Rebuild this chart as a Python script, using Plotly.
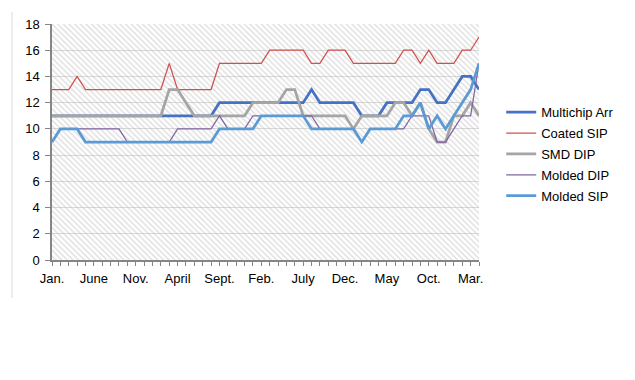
import plotly.graph_objects as go

months = ["Jan.", "Feb.", "Mar.", "April", "May", "June", "July", "Aug.", "Sept.", "Oct.", "Nov.", "Dec."]
n_points = 52
categories = [months[i % 12] for i in range(n_points)]
label_step = 5

series_names = ["Multichip Arr", "Coated SIP", "SMD DIP", "Molded DIP", "Molded SIP"]

multichip = [11]*20 + [12]*11 + [13] + [12]*5 + [11]*3 + [12]*4 + [13, 13, 12, 12, 13, 14, 14, 13]
coated_sip = [13, 13, 13, 14] + [13]*10 + [15] + [13]*5 + [15]*6 + [16]*5 + [15, 15] + [16]*3 + [15]*6 + [16, 16, 15, 16, 15, 15, 15, 16, 16, 17]
smd_dip = [11]*14 + [13, 13, 12] + [11]*7 + [12]*4 + [13, 13] + [11]*6 + [10] + [11]*4 + [12, 12, 11, 12, 10, 9, 9, 11, 11, 12, 11]
molded_dip = [9] + [10]*8 + [9]*6 + [10]*5 + [11, 10, 10, 10] + [11]*8 + [10]*5 + [9] + [10]*5 + [11, 11, 11, 9, 9, 10, 11, 11, 15]
molded_sip = [9, 10, 10, 10] + [9]*16 + [10]*5 + [11]*6 + [10]*6 + [9] + [10]*4 + [11, 11, 12, 10, 11, 10, 11, 12, 13, 15]

series_values = [multichip, coated_sip, smd_dip, molded_dip, molded_sip]
series_colors = ["#4472C4", "#D0504D", "#A5A5A5", "#8064A2", "#5B9BD5"]
series_widths = [2.75, 1.25, 2.75, 1.25, 2.75]

y_max = 18
y_step = 2

x = list(range(n_points))
tick_text = [categories[i] if i % label_step == 0 else "" for i in x]

fig = go.Figure()

# hatched plot-area background
fig.add_trace(go.Scatter(
    x=[x[0], x[-1]], y=[y_max, y_max], mode="none", fill="tozeroy",
    fillcolor="rgba(0,0,0,0)",
    fillpattern=dict(shape="\\", fgcolor="#BDBDBD", bgcolor="rgba(0,0,0,0)", size=4, solidity=0.35),
    showlegend=False, hoverinfo="skip",
))

for name, vals, col, w in zip(series_names, series_values, series_colors, series_widths):
    fig.add_trace(go.Scatter(
        x=x, y=vals, mode="lines", name=name,
        line=dict(color=col, width=w),
        legendgroup=name,
    ))

font = dict(family="Liberation Sans, Arial, sans-serif", size=13, color="#000000")

fig.update_layout(
    width=635, height=380,
    margin=dict(l=44, r=164, t=16, b=128),
    paper_bgcolor="white", plot_bgcolor="white",
    font=font,
    showlegend=True,
    legend=dict(x=1.052, xanchor="left", y=0.69, yanchor="top",
                font=dict(family="Liberation Sans, Arial, sans-serif", size=13, color="#000000"),
                tracegroupgap=1, itemwidth=30, bgcolor="rgba(0,0,0,0)"),
    xaxis=dict(range=[x[0], x[-1]], tickmode="array", tickvals=x, ticktext=tick_text,
               ticks="outside", ticklen=4, tickcolor="#868686", tickwidth=1,
               showline=True, linecolor="#868686", linewidth=1.5,
               showgrid=False, zeroline=False, tickangle=0, ticklabelstandoff=2,
               automargin=False),
    yaxis=dict(range=[0, y_max], dtick=y_step, tick0=0,
               ticks="outside", ticklen=5, tickcolor="#868686", tickwidth=1,
               showline=True, linecolor="#868686", linewidth=1.5,
               showgrid=True, gridcolor="#D9D9D9", gridwidth=1, zeroline=False,
               ticklabelstandoff=3, automargin=False),
    shapes=[dict(type="line", xref="paper", yref="paper",
                 x0=-40/427, x1=-40/427, y0=(260-12)/236, y1=(260-298)/236,
                 line=dict(color="#D9D9D9", width=1))],
)

fig.write_html("out.html")
